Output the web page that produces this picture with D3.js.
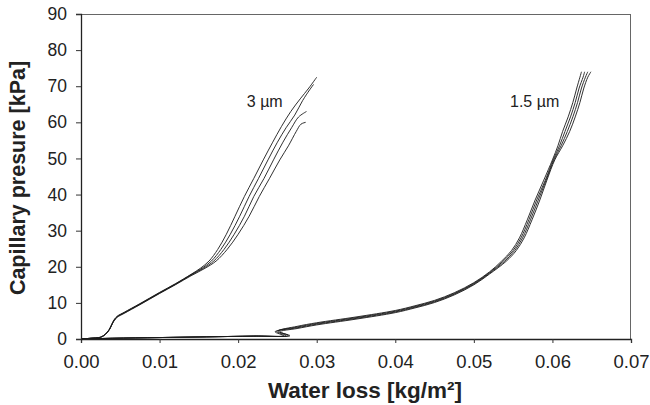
<!DOCTYPE html>
<html>
<head>
<meta charset="utf-8">
<script src="https://cdn.jsdelivr.net/npm/d3@7"></script>
<style>
  body { margin: 0; background: #fff; }
  svg { font-family: "Liberation Sans", Arial, sans-serif; }
</style>
</head>
<body>
<div id="chart"></div>
<script>
// axis ticks
var xTicks = [0, 0.01, 0.02, 0.03, 0.04, 0.05, 0.06, 0.07];
var yTicks = [0, 10, 20, 30, 40, 50, 60, 70, 80, 90];

// 3 um samples: [water loss, capillary pressure]
var curve3a = [[0,0],[0.0012,0.2],[0.0025,0.5],[0.0031,1.3],[0.0036,2.7],[0.0039,4],[0.0042,5.3],[0.0046,6.3],[0.0055,7.4],[0.0075,9.8],[0.010,12.9],[0.012,15.3],[0.014,17.9],
  [0.0152,19.6],[0.0163,21.6],[0.0174,24.8],[0.0185,29],[0.0196,34],[0.0208,39.5],[0.0220,44.5],[0.0232,49.6],[0.0244,54.5],[0.0255,58.8],[0.0267,63],[0.0279,66.5],[0.0290,69.5],[0.0300,72.5]];
var curve3b = [[0,0],[0.0012,0.2],[0.0025,0.5],[0.0031,1.3],[0.0036,2.6],[0.0039,3.9],[0.0042,5.2],[0.0046,6.2],[0.0055,7.3],[0.0075,9.7],[0.010,12.8],[0.012,15.2],[0.014,17.8],
  [0.0154,19.6],[0.0166,21.6],[0.0178,24.8],[0.0190,29],[0.0202,34],[0.0214,39.5],[0.0226,44.5],[0.0238,49.6],[0.0250,54.5],[0.0261,58.5],[0.0272,62],[0.0282,66],[0.0291,69],[0.0296,70.5]];
var curve3c = [[0,0],[0.0012,0.2],[0.0025,0.5],[0.0031,1.3],[0.0036,2.6],[0.0039,3.9],[0.0042,5.1],[0.0046,6.1],[0.0055,7.2],[0.0075,9.6],[0.010,12.7],[0.012,15.1],[0.014,17.7],
  [0.0156,19.6],[0.0169,21.6],[0.0182,24.8],[0.0195,29],[0.0208,34],[0.0220,39.5],[0.0233,44.5],[0.0245,49.6],[0.0257,54.5],[0.0268,58.5],[0.0277,61.5],[0.0287,63]];
var curve3d = [[0,0],[0.0012,0.2],[0.0025,0.5],[0.0031,1.3],[0.0036,2.5],[0.0039,3.8],[0.0042,5.0],[0.0046,6.0],[0.0055,7.1],[0.0075,9.5],[0.010,12.6],[0.012,15.0],[0.014,17.5],
  [0.0158,19.6],[0.0172,21.6],[0.0186,24.8],[0.0200,29],[0.0214,34],[0.0227,39.5],[0.0240,44.5],[0.0253,49.6],[0.0264,53.5],[0.0274,57.5],[0.0280,59.5],[0.0286,60]];

// 1.5 um samples
var curve15a = [[0,0],[0.004,0.2],[0.010,0.4],[0.016,0.6],[0.022,0.8],[0.0264,0.95],[0.0251,2.2],[0.0275,3.5],
  [0.0300,4.5],[0.035,6.1],[0.040,7.9],[0.0425,9.2],[0.045,10.7],[0.0475,12.8],[0.050,15.6],[0.052,18.6],[0.0535,21.5],[0.0548,24.5],[0.0558,28],[0.0568,33],[0.0578,38.5],[0.0589,44],[0.0600,49.6],[0.0607,53.5],[0.0613,57.5],[0.0620,61.5],[0.0626,65.5],[0.0631,69.5],[0.0635,72.5],[0.0637,74]];
var curve15b = [[0,0],[0.004,0.2],[0.010,0.4],[0.016,0.6],[0.022,0.8],[0.0261,0.95],[0.0249,2.1],[0.0275,3.3],
  [0.0300,4.3],[0.035,5.9],[0.040,7.7],[0.0425,9.0],[0.045,10.5],[0.0475,12.6],[0.050,15.4],[0.052,18.4],[0.0537,21.5],[0.0550,24.5],[0.0560,28],[0.0570,33],[0.0580,38.5],[0.0591,44],[0.0601,49.6],[0.0609,53.5],[0.0616,57.5],[0.0623,61.5],[0.0629,65.5],[0.0634,69.5],[0.0639,72.5],[0.0641,74]];
var curve15c = [[0,0],[0.004,0.2],[0.010,0.4],[0.016,0.6],[0.022,0.8],[0.0258,0.9],[0.0247,2.0],[0.0275,3.1],
  [0.0300,4.1],[0.035,5.7],[0.040,7.5],[0.0425,8.8],[0.045,10.3],[0.0475,12.4],[0.050,15.2],[0.052,18.2],[0.0539,21.5],[0.0552,24.5],[0.0562,28],[0.0572,33],[0.0582,38.5],[0.0592,44],[0.0602,49.6],[0.0611,53.5],[0.0619,57.5],[0.0626,61.5],[0.0632,65.5],[0.0637,69.5],[0.0642,72.5],[0.0645,74]];
var curve15d = [[0,0],[0.004,0.2],[0.010,0.4],[0.016,0.6],[0.022,0.8],[0.0266,0.9],[0.0253,2.0],[0.0275,2.9],
  [0.0300,3.9],[0.035,5.5],[0.040,7.3],[0.0425,8.6],[0.045,10.1],[0.0475,12.2],[0.050,15.0],[0.052,18.0],[0.0541,21.5],[0.0554,24.5],[0.0564,28],[0.0574,33],[0.0584,38.5],[0.0593,44],[0.0603,49.6],[0.0613,53.5],[0.0622,57.5],[0.0629,61.5],[0.0635,65.5],[0.0640,69.5],[0.0645,72.5],[0.0649,74]];

var curves = [curve3a, curve3b, curve3c, curve3d, curve15a, curve15b, curve15c, curve15d];

// curve labels: text, anchor point in data units
var labelText = ["3 \u00b5m", "1.5 \u00b5m"];
var labelPos = [[0.0211, 64.2], [0.0546, 64.2]];

var W = 650, H = 405;
var margin = {left: 81, top: 14, right: 19, bottom: 66};
var iw = W - margin.left - margin.right;
var ih = H - margin.top - margin.bottom;

var svg = d3.select("#chart").append("svg")
  .attr("width", W).attr("height", H);

var g = svg.append("g")
  .attr("transform", "translate(" + margin.left + "," + margin.top + ")");

var x = d3.scaleLinear().domain([0, 0.07]).range([0, iw]);
var y = d3.scaleLinear().domain([0, 90]).range([ih, 0]);

// frame top / right
g.append("line").attr("x1", 0).attr("x2", iw).attr("y1", 0.5).attr("y2", 0.5)
  .attr("stroke", "#666").attr("stroke-width", 1);
g.append("line").attr("x1", iw - 0.5).attr("x2", iw - 0.5).attr("y1", 0).attr("y2", ih)
  .attr("stroke", "#666").attr("stroke-width", 1);

// curves
var line = d3.line()
  .x(function(d) { return x(d[0]); })
  .y(function(d) { return y(d[1]); })
  .curve(d3.curveCatmullRom.alpha(0.5));

g.selectAll(".curve")
  .data(curves)
  .enter()
  .append("path")
  .attr("class", "curve")
  .attr("d", line)
  .attr("fill", "none")
  .attr("stroke", "#1a1a1a")
  .attr("stroke-width", 0.9);

// axes
var xAxis = g.append("g")
  .attr("transform", "translate(0," + ih + ")")
  .call(d3.axisBottom(x).tickValues(xTicks).tickFormat(d3.format(".2f")).tickSizeOuter(0).tickSize(4).tickPadding(12));
var yAxis = g.append("g")
  .call(d3.axisLeft(y).tickValues(yTicks).tickSizeOuter(0).tickSize(5).tickPadding(9));

xAxis.select(".domain").attr("stroke", "#222").attr("stroke-width", 1.3);
yAxis.select(".domain").attr("stroke", "#222").attr("stroke-width", 1.3);
xAxis.selectAll(".tick line").attr("stroke", "#333");
yAxis.selectAll(".tick line").attr("stroke", "#333");
xAxis.selectAll("text").attr("font-size", 18.5).attr("fill", "#222")
  .attr("font-family", "Liberation Sans, Arial, sans-serif");
yAxis.selectAll("text").attr("font-size", 17.5).attr("fill", "#222")
  .attr("font-family", "Liberation Sans, Arial, sans-serif");

// curve labels
g.selectAll(".lab")
  .data(labelText)
  .enter()
  .append("text")
  .attr("class", "lab")
  .attr("x", function(d, i) { return x(labelPos[i][0]); })
  .attr("y", function(d, i) { return y(labelPos[i][1]); })
  .attr("font-size", 16)
  .attr("fill", "#222")
  .text(function(d) { return d; });

// axis titles
svg.append("text")
  .attr("x", 365).attr("y", 398)
  .attr("text-anchor", "middle")
  .attr("font-size", 22.5).attr("font-weight", "bold").attr("fill", "#222")
  .text("Water loss [kg/m\u00b2]");

svg.append("text")
  .attr("transform", "translate(25,178) rotate(-90)")
  .attr("text-anchor", "middle")
  .attr("font-size", 21.5).attr("font-weight", "bold").attr("fill", "#222")
  .text("Capillary presure [kPa]");
</script>
</body>
</html>
